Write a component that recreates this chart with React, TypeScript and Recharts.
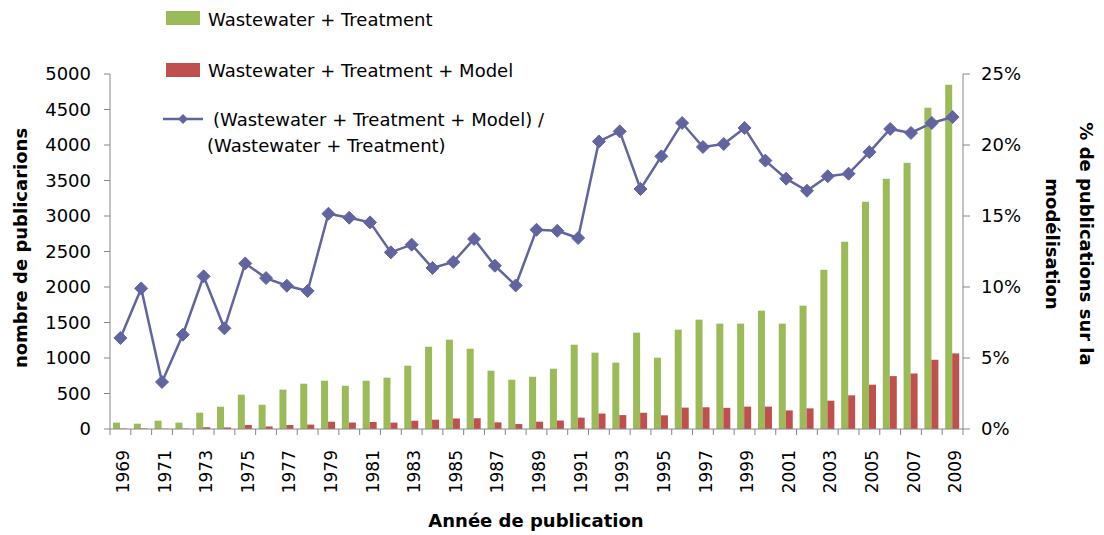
import React from 'react';
import {
  ComposedChart,
  Bar,
  Line,
  XAxis,
  YAxis,
  Legend,
  Label
} from 'recharts';

// Données
const years = [
  '1969', '1970', '1971', '1972', '1973', '1974', '1975', '1976', '1977', '1978',
  '1979', '1980', '1981', '1982', '1983', '1984', '1985', '1986', '1987', '1988',
  '1989', '1990', '1991', '1992', '1993', '1994', '1995', '1996', '1997', '1998',
  '1999', '2000', '2001', '2002', '2003', '2004', '2005', '2006', '2007', '2008',
  '2009'
];

const wwTreatment = [
  89, 75, 117, 89, 230, 314, 483, 342, 554, 638,
  680, 609, 680, 723, 892, 1159, 1258, 1131, 821, 694,
  736, 849, 1187, 1075, 934, 1357, 1004, 1399, 1540, 1484,
  1484, 1667, 1484, 1737, 2244, 2638, 3201, 3525, 3751, 4525,
  4849
];

const wwTreatmentModel = [
  6, 7, 4, 6, 25, 22, 56, 36, 56, 62,
  103, 91, 99, 90, 116, 131, 148, 151, 94, 70,
  103, 119, 160, 218, 196, 229, 193, 301, 306, 298,
  315, 315, 262, 291, 399, 474, 624, 745, 782, 975,
  1065
];

const modelShare = [
  6.41, 9.9, 3.31, 6.64, 10.75, 7.09, 11.66, 10.63, 10.09, 9.72,
  15.16, 14.88, 14.55, 12.44, 12.98, 11.34, 11.76, 13.38, 11.5, 10.11,
  14.03, 13.96, 13.45, 20.25, 20.96, 16.9, 19.2, 21.55, 19.86, 20.07,
  21.2, 18.9, 17.63, 16.78, 17.8, 17.98, 19.5, 21.13, 20.85, 21.55,
  21.97
];

const leftTicks = [0, 500, 1000, 1500, 2000, 2500, 3000, 3500, 4000, 4500, 5000];
const rightTicks = [0, 5, 10, 15, 20, 25];

const seriesNames = [
  'Wastewater + Treatment',
  'Wastewater + Treatment + Model',
  '(Wastewater + Treatment + Model) /',
  '(Wastewater + Treatment)'
];

const GREEN = '#9BBB59';
const RED = '#C0504D';
const PURPLE = '#6264A0';
const AXIS = '#868686';
const FONT = '"DejaVu Sans", sans-serif';

const data = years.map((year, i) => ({
  year,
  total: wwTreatment[i],
  model: wwTreatmentModel[i],
  share: modelShare[i]
}));

const Diamond = (props: any) => {
  const { cx, cy, index } = props;
  if (cx == null || cy == null) return null;
  const r = 6.5;
  return (
    <path
      key={`dm-${index}`}
      d={`M${cx} ${cy - r}L${cx + r} ${cy}L${cx} ${cy + r}L${cx - r} ${cy}Z`}
      fill={PURPLE}
      stroke={PURPLE}
      strokeWidth={1}
    />
  );
};

// Ticks d'Excel : traits entre les catégories, une année sur deux en libellé
const YearTick = (props: any) => {
  const { x, y, payload, index } = props;
  const half = payload && payload.offset ? payload.offset : 10.4;
  const last = index === years.length - 1;
  return (
    <g>
      <line x1={x - half} x2={x - half} y1={y} y2={y + 6} stroke={AXIS} strokeWidth={1} />
      {last && <line x1={x + half} x2={x + half} y1={y} y2={y + 6} stroke={AXIS} strokeWidth={1} />}
      {index % 2 === 0 && (
        <text
          x={x + 2.5}
          y={y + 21}
          transform={`rotate(-90 ${x + 2.5} ${y + 21})`}
          textAnchor="end"
          dy="0.36em"
          fontSize={17}
          fontFamily={FONT}
          fill="#000"
        >
          {payload.value}
        </text>
      )}
    </g>
  );
};

const renderLegend = () => (
  <svg width={560} height={165} style={{ display: 'block' }}>
    <g fontFamily={FONT} fontSize={18} fill="#000">
      <rect x={166} y={11} width={34} height={14} fill={GREEN} />
      <text x={208} y={26}>{seriesNames[0]}</text>
      <rect x={166} y={63} width={34} height={14} fill={RED} />
      <text x={208} y={77}>{seriesNames[1]}</text>
      <line x1={163} x2={203} y1={119} y2={119} stroke={PURPLE} strokeWidth={2.5} />
      <path d="M183 114L188 119L183 124L178 119Z" fill={PURPLE} />
      <text x={213} y={126}>{seriesNames[2]}</text>
      <text x={207} y={152}>{seriesNames[3]}</text>
    </g>
  </svg>
);

const App: React.FC = () => {
  return (
    <div style={{ position: 'absolute', left: 0, top: 0, width: 1104, height: 535, background: '#fff' }}>
      <ComposedChart
        width={1104}
        height={535}
        data={data}
        margin={{ top: 74, right: 61, bottom: 0, left: 0 }}
        barGap={0}
        barSize={7}
        style={{ fontFamily: FONT }}
      >
        <XAxis
          dataKey="year"
          interval={0}
          height={106}
          tickSize={0}
          tickMargin={0}
          tickLine={false}
          axisLine={{ stroke: AXIS }}
          tick={<YearTick />}
        >
          <Label
            content={() => (
              <text x={536} y={527} textAnchor="middle" fontFamily={FONT} fontSize={18} fontWeight="bold" fill="#000">
                Année de publication
              </text>
            )}
          />
        </XAxis>
        <YAxis
          yAxisId="left"
          width={110}
          domain={[0, 5000]}
          ticks={leftTicks}
          interval={0}
          tickSize={6}
          tickMargin={13}
          axisLine={{ stroke: AXIS }}
          tickLine={{ stroke: AXIS }}
          tick={{ fill: '#000', fontSize: 18, fontFamily: FONT }}
        >
          <Label
            content={() => (
              <text
                x={20}
                y={248}
                transform="rotate(-90 20 248)"
                textAnchor="middle"
                dominantBaseline="central"
                fontFamily={FONT}
                fontSize={18}
                fontWeight="bold"
                fill="#000"
              >
                nombre de publicarions
              </text>
            )}
          />
        </YAxis>
        <YAxis
          yAxisId="right"
          orientation="right"
          width={80}
          domain={[0, 25]}
          ticks={rightTicks}
          interval={0}
          tickSize={7}
          tickMargin={11}
          tickFormatter={(v: number) => `${v}%`}
          axisLine={{ stroke: AXIS }}
          tickLine={{ stroke: AXIS }}
          tick={{ fill: '#000', fontSize: 18, fontFamily: FONT, textAnchor: 'start' }}
        >
          <Label
            content={() => (
              <g fontFamily={FONT} fontSize={18} fontWeight="bold" fill="#000">
                <text x={1086} y={244} transform="rotate(90 1086 244)" textAnchor="middle" dominantBaseline="central">
                  % de publications sur la
                </text>
                <text x={1052} y={244} transform="rotate(90 1052 244)" textAnchor="middle" dominantBaseline="central">
                  modélisation
                </text>
              </g>
            )}
          />
        </YAxis>
        <Legend
          layout="vertical"
          align="center"
          verticalAlign="middle"
          content={renderLegend}
          wrapperStyle={{ position: 'absolute', left: 0, top: 0, width: 560, height: 165 }}
        />
        <Bar yAxisId="left" dataKey="total" name={seriesNames[0]} fill={GREEN} isAnimationActive={false} />
        <Bar yAxisId="left" dataKey="model" name={seriesNames[1]} fill={RED} isAnimationActive={false} />
        <Line
          yAxisId="right"
          dataKey="share"
          name={`${seriesNames[2]} ${seriesNames[3]}`}
          type="linear"
          stroke={PURPLE}
          strokeWidth={2.5}
          dot={Diamond}
          activeDot={false}
          isAnimationActive={false}
        />
      </ComposedChart>
    </div>
  );
};

export default App;
